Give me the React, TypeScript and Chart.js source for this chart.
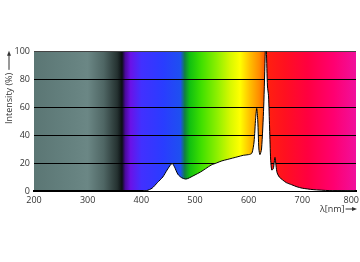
import React, { useEffect, useRef } from "react";
import { Chart, registerables } from "chart.js";

Chart.register(...registerables);

const wavelengths = [200, 400, 410, 420, 430, 440, 448, 455, 458, 462, 468, 475, 483, 490, 500, 510, 520, 530, 540, 550, 560, 570, 580, 590, 600, 606, 610, 613, 615, 617, 619, 621, 624, 628, 631, 632, 633, 635, 637, 639, 641, 643, 646, 649, 651, 653, 657, 663, 670, 680, 690, 700, 720, 750, 780, 800];
const intensity = [0, 0, 0.3, 2, 6, 10, 15, 19, 19.5, 17, 12, 9.5, 8.5, 9.5, 11.5, 13.5, 16, 18.5, 20, 21.5, 22.5, 23.5, 24.5, 25.5, 26, 27, 35, 52, 59, 50, 30, 26, 30, 60, 100, 105, 100, 75, 68, 45, 22, 15, 16, 24, 18, 13, 10, 8, 6, 4.5, 3, 2, 1, 0.3, 0.1, 0];
const xTicks = [200, 300, 400, 500, 600, 700, 800];
const yTicks = [0, 20, 40, 60, 80, 100];
const yTitle = "Intensity (%)";
const xTitle = "λ[nm]";

const spectrumStops: [number, string][] = [
  [200, "#5b7674"], [260, "#64807e"], [300, "#6b8785"], [330, "#4f6664"], [355, "#253231"],
  [364, "#0a0f12"], [370, "#4a0a9a"], [380, "#6a12e8"], [400, "#4230ff"], [440, "#2a3cff"],
  [473, "#1e50f0"], [481, "#108040"], [490, "#10c010"], [512, "#40e000"], [542, "#90f000"],
  [566, "#d8f800"], [584, "#ffff00"], [602, "#ffc000"], [620, "#ff8a00"], [629, "#ff5a00"],
  [635, "#ff2010"], [668, "#ff1020"], [710, "#ff0040"], [758, "#ff0070"], [800, "#f0109c"],
];

const FONT = "'Open Sans', 'DejaVu Sans', sans-serif";

const bgPlugin = {
  id: "spectrumBg",
  beforeDraw(chart: any) {
    const { ctx, chartArea } = chart;
    const { left, right, top, bottom } = chartArea;
    ctx.save();
    ctx.fillStyle = "#ffffff";
    ctx.fillRect(0, 0, chart.width, chart.height);
    const g = ctx.createLinearGradient(left, 0, right, 0);
    spectrumStops.forEach(([l, c]) => g.addColorStop((l - 200) / 600, c));
    ctx.fillStyle = g;
    ctx.fillRect(left, top, right - left, bottom - top);
    ctx.restore();
  },
  afterDraw(chart: any) {
    const { ctx, chartArea } = chart;
    // x tick labels
    ctx.save();
    ctx.fillStyle = "#333";
    ctx.font = `9px ${FONT}`;
    ctx.textAlign = "center";
    ctx.textBaseline = "middle";
    const xs = chart.scales.x;
    xTicks.forEach((v) => {
      const label = String(v);
      const lw = ctx.measureText(label).width;
      let px = xs.getPixelForValue(v);
      if (px + lw / 2 > chart.width - 1) px = chart.width - 1 - lw / 2;
      ctx.fillText(label, px, chartArea.bottom + 9);
    });
    ctx.restore();

    ctx.save();
    ctx.fillStyle = "#333";
    ctx.strokeStyle = "#333";
    ctx.font = `9px ${FONT}`;
    // y title
    ctx.translate(9, 124);
    ctx.rotate(-Math.PI / 2);
    ctx.textAlign = "left";
    ctx.textBaseline = "middle";
    ctx.fillText(yTitle, 0, 0);
    const w = ctx.measureText(yTitle).width;
    ctx.lineWidth = 1;
    ctx.beginPath();
    ctx.moveTo(w + 3, 0);
    ctx.lineTo(w + 18, 0);
    ctx.stroke();
    ctx.beginPath();
    ctx.moveTo(w + 22, 0);
    ctx.lineTo(w + 17, -2);
    ctx.lineTo(w + 17, 2);
    ctx.closePath();
    ctx.fill();
    ctx.restore();
    // x title
    ctx.save();
    ctx.fillStyle = "#333";
    ctx.strokeStyle = "#333";
    ctx.font = `9px ${FONT}`;
    ctx.textAlign = "left";
    ctx.textBaseline = "middle";
    const x0 = 320;
    const y0 = 209;
    ctx.fillText(xTitle, x0, y0);
    const w2 = ctx.measureText(xTitle).width;
    ctx.lineWidth = 1;
    ctx.beginPath();
    ctx.moveTo(x0 + w2 + 1, y0);
    ctx.lineTo(chartArea.right - 3, y0);
    ctx.stroke();
    ctx.beginPath();
    ctx.moveTo(chartArea.right + 1, y0);
    ctx.lineTo(chartArea.right - 4, y0 - 2);
    ctx.lineTo(chartArea.right - 4, y0 + 2);
    ctx.closePath();
    ctx.fill();
    ctx.restore();
  },
};

export default function App() {
  const ref = useRef<HTMLCanvasElement>(null);
  useEffect(() => {
    if (!ref.current) return;
    const chart = new Chart(ref.current, {
      type: "line",
      data: {
        datasets: [
          {
            data: wavelengths.map((x, i) => ({ x, y: intensity[i] })),
            borderColor: "#000",
            borderWidth: 1,
            backgroundColor: "#ffffff",
            fill: "origin",
            pointRadius: 0,
            tension: 0.25,
            clip: 0 as any,
          },
        ],
      },
      options: {
        animation: false,
        responsive: true,
        maintainAspectRatio: false,
        layout: { padding: { top: 51, right: 4, left: 0, bottom: 0 } },
        plugins: { legend: { display: false }, tooltip: { enabled: false } },
        scales: {
          x: {
            type: "linear",
            min: 200,
            max: 800,
            afterFit: (s: any) => { s.height = 71; s.paddingLeft = 0; s.paddingRight = 0; },
            afterBuildTicks: (s: any) => { s.ticks = xTicks.map((v) => ({ value: v })); },
            grid: { display: false, drawTicks: false },
            border: { display: true, color: "#000", width: 2 },
            ticks: { display: false },
          },
          y: {
            min: 0,
            max: 100,
            afterFit: (s: any) => { s.width = 34; s.paddingTop = 0; s.paddingBottom = 0; },
            afterBuildTicks: (s: any) => { s.ticks = yTicks.map((v) => ({ value: v })); },
            grid: {
              drawTicks: false,
              color: (c: any) => (c.tick && c.tick.value === 100 ? "#444" : "#000"),
              lineWidth: 1,
            },
            border: { display: false },
            ticks: { color: "#333", font: { size: 9, family: FONT }, padding: 4 },
          },
        },
      },
      plugins: [bgPlugin],
    });
    return () => chart.destroy();
  }, []);
  return (
    <div style={{ position: "fixed", left: 0, top: 0, width: 360, height: 262, background: "#fff" }}>
      <canvas ref={ref} />
    </div>
  );
}
